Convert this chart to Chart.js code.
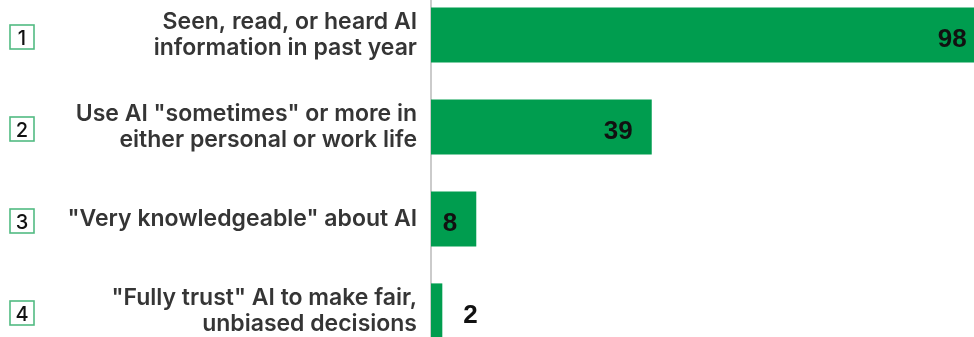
<!DOCTYPE html>
<html>
<head>
<meta charset="utf-8">
<script src="https://cdn.jsdelivr.net/npm/chart.js@4"></script>
<style>
    html, body { margin: 0; padding: 0; overflow: hidden; background: #fff; }
    #wrap { position: absolute; left: 0; top: -11px; width: 997px; height: 368px; }
</style>
</head>
<body>
<div id="wrap"><canvas id="aiChart" width="997" height="368"></canvas></div>
<script>
const itemNumbers = ['1', '2', '3', '4'];
const itemLabels = [
    ['Seen, read, or heard AI', 'information in past year'],
    ['Use AI "sometimes" or more in', 'either personal or work life'],
    '"Very knowledgeable" about AI',
    ['"Fully trust" AI to make fair,', 'unbiased decisions'],
];
const percentValues = [98, 39, 8, 2];

const barGreen = '#009d4f';

// numbered boxes at the far left of each row
const numberBoxes = {
    id: 'numberBoxes',
    afterDraw(chart) {
        const ctx = chart.ctx;
        const yScale = chart.scales.y;
        ctx.save();
        ctx.font = '500 20px Inter, "Liberation Sans", Arial, sans-serif';
        ctx.textAlign = 'center';
        ctx.textBaseline = 'alphabetic';
        itemNumbers.forEach((num, i) => {
            const cy = yScale.getPixelForValue(i) + 2;
            ctx.strokeStyle = '#52bb82';
            ctx.lineWidth = 1.6;
            ctx.strokeRect(10, cy - 12, 24, 24);
            ctx.fillStyle = '#111';
            ctx.fillText(num, 22, cy + 7.5);
        });
        ctx.restore();
    }
};

// value labels: inside the bar end when there is room, otherwise just after it
const valueLabels = {
    id: 'valueLabels',
    afterDatasetsDraw(chart) {
        const ctx = chart.ctx;
        const meta = chart.getDatasetMeta(0);
        ctx.save();
        ctx.font = 'bold 26px "Liberation Sans", Arial, sans-serif';
        ctx.fillStyle = '#111';
        ctx.textBaseline = 'alphabetic';
        meta.data.forEach((bar, i) => {
            const text = String(percentValues[i]);
            const w = ctx.measureText(text).width;
            const barWidth = bar.x - bar.base;
            const y = bar.y + 11.5;
            if (barWidth >= w + 28) {
                ctx.textAlign = 'right';
                ctx.fillText(text, bar.x - 19, y);
            } else {
                ctx.textAlign = 'left';
                ctx.fillText(text, bar.x + 21, y);
            }
        });
        ctx.restore();
    }
};

const ctx = document.getElementById('aiChart').getContext('2d');
const chart = new Chart(ctx, {
    type: 'bar',
    data: {
        labels: itemLabels,
        datasets: [{
            data: percentValues,
            backgroundColor: barGreen,
            borderWidth: 0,
            categoryPercentage: 1,
            barPercentage: 0.6,
        }],
    },
    options: {
        indexAxis: 'y',
        responsive: false,
        animation: false,
        layout: { padding: 0 },
        plugins: {
            legend: { display: false },
            tooltip: { enabled: false },
        },
        scales: {
            x: {
                display: false,
                min: 0,
                max: 100,
            },
            y: {
                grid: { display: false, drawTicks: false },
                border: { display: true, color: '#cbcbcb', width: 2 },
                ticks: {
                    padding: 14,
                    color: '#353535',
                    autoSkip: false,
                    font: { family: 'Inter, "Noto Sans", sans-serif', size: 23, weight: '600', lineHeight: 1.13 },
                },
                afterFit(scale) {
                    scale.width = 431;
                    // let the rows fill the whole height
                    scale.paddingTop = 0;
                    scale.paddingBottom = 0;
                },
            },
        },
    },
    plugins: [numberBoxes, valueLabels],
});
</script>
</body>
</html>
